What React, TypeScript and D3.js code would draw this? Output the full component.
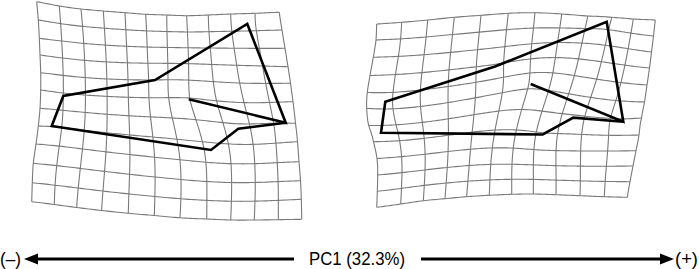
import * as d3 from 'd3';
import React, { useMemo } from 'react';

type Pt = [number, number];

const gridCells = 11;

// ---- negative side of PC1 (left panel) ----
const negTopEdge: Pt[] = [[36.7, 1.7], [59.3, 6], [81, 9], [103.3, 11], [125, 12.7], [145.7, 14.3], [166.7, 15], [186.7, 15.7], [208.3, 15], [230.7, 14], [255, 13.3], [279.3, 12.3]];
const negBottomEdge: Pt[] = [[31.7, 201.7], [54.3, 204.5], [76.7, 207.5], [101.7, 210.5], [128.3, 213.3], [154.3, 215.5], [180, 217.8], [206.7, 219], [230.7, 220], [254.3, 220], [278.3, 219.7], [301.7, 219.3]];
const negLeftEdge: Pt[] = [[36.7, 1.7], [38.3, 20], [39.3, 38.3], [40, 55], [40.7, 72.7], [40.7, 90], [40, 108.3], [38.3, 126], [36, 144], [33.3, 163.3], [32.3, 182.7], [31.7, 201.7]];
const negRightEdge: Pt[] = [[279.3, 12.3], [282, 30], [285, 48.3], [288, 66.7], [290.5, 83.3], [293, 101.7], [295.5, 123.3], [297.5, 141.7], [299, 161.7], [300.5, 180.7], [301.3, 199.3], [301.7, 219.3]];

// landmarks: inner, right, tip, midUpper, leftUpper, bottomLeft, bottomLow, knee
const negLandmarks: Pt[] = [[188.7, 99.3], [285.7, 122.7], [247.3, 24], [155, 80], [63.3, 96], [51.7, 126], [211, 150], [238.3, 128.7]];
const negLandmarkGrid: Pt[] = [[7.0, 5.1], [10.5, 6.0], [9.7, 0.6], [5.3, 4.0], [1.0, 5.15], [0.55, 7.0], [7.25, 7.35], [8.5, 6.2]];

// ---- positive side of PC1 (right panel) ----
const posTopEdge: Pt[] = [[376.7, 24], [401.7, 22.3], [427.7, 20], [454.3, 17.3], [481, 15.3], [508.3, 13.3], [535, 12.7], [561.7, 14], [587.7, 16], [611.7, 17.3], [633.3, 19], [655.3, 20]];
const posBottomEdge: Pt[] = [[376.7, 207.3], [400.7, 204], [423.3, 200.7], [445, 198.7], [466.7, 196.7], [489.3, 195.3], [511.7, 194.3], [533.3, 194], [556, 194.7], [580, 195.7], [604.3, 196.7], [627.3, 197.3]];
const posLeftEdge: Pt[] = [[376.7, 24], [376, 40], [373.3, 57.3], [370, 75.5], [367.3, 92.5], [366.7, 108.5], [368.7, 125.5], [373.5, 141.7], [377, 158.5], [377.7, 175], [377.3, 191.3], [376.7, 207.3]];
const posRightEdge: Pt[] = [[655.3, 20], [653.5, 36], [651.5, 52], [649.5, 68], [647, 85], [644.5, 102], [641.5, 118], [639, 135], [636, 150.7], [633, 166], [630, 181.7], [627.3, 197.3]];

const posLandmarks: Pt[] = [[530.7, 84], [623.3, 121.7], [606.7, 21.7], [495, 66.5], [385.3, 101.7], [381, 132.7], [542.7, 134.5], [573.3, 117.7]];
const posLandmarkGrid: Pt[] = [[6.05, 4.8], [10.55, 6.1], [8.85, 0.55], [4.7, 3.1], [0.75, 4.5], [0.3, 6.4], [7.35, 7.05], [8.55, 6.15]];

// outline drawn through the landmarks (indices)
const outlineOrder = [0, 1, 2, 3, 4, 5, 6, 7, 1];

const axisLabel = 'PC1 (32.3%)';
const negLabel = '(\u2013)';
const posLabel = '(+)';

const kernel = (r2: number) => (r2 === 0 ? 0 : r2 * Math.log(r2));

function solve(A: number[][], b: number[][]): number[][] {
  const n = A.length;
  const M = A.map((row, i) => [...row, ...b[i]]);
  const m = b[0].length;
  for (let c = 0; c < n; c++) {
    let p = c;
    for (let r = c + 1; r < n; r++) if (Math.abs(M[r][c]) > Math.abs(M[p][c])) p = r;
    [M[c], M[p]] = [M[p], M[c]];
    for (let r = 0; r < n; r++) {
      if (r === c) continue;
      const f = M[r][c] / M[c][c];
      if (f === 0) continue;
      for (let k = c; k < n + m; k++) M[r][k] -= f * M[c][k];
    }
  }
  return M.map((row, i) => row.slice(n).map(v => v / M[i][i]));
}

// thin-plate spline from grid coords (u,v) to pixels; per-point smoothing
function fitTps(src: Pt[], dst: Pt[], lambdas: number[]) {
  const n = src.length;
  const A: number[][] = [];
  const b: number[][] = [];
  for (let i = 0; i < n; i++) {
    const row: number[] = [];
    for (let j = 0; j < n; j++) {
      const dx = src[i][0] - src[j][0];
      const dy = src[i][1] - src[j][1];
      row.push(kernel(dx * dx + dy * dy) + (i === j ? lambdas[i] : 0));
    }
    row.push(1, src[i][0], src[i][1]);
    A.push(row);
    b.push([dst[i][0], dst[i][1]]);
  }
  for (let k = 0; k < 3; k++) {
    const row: number[] = [];
    for (let j = 0; j < n; j++) row.push(k === 0 ? 1 : src[j][k - 1]);
    row.push(0, 0, 0);
    A.push(row);
    b.push([0, 0]);
  }
  const w = solve(A, b);
  return (u: number, v: number): Pt => {
    let x = w[n][0] + w[n + 1][0] * u + w[n + 2][0] * v;
    let y = w[n][1] + w[n + 1][1] * u + w[n + 2][1] * v;
    for (let i = 0; i < n; i++) {
      const dx = u - src[i][0];
      const dy = v - src[i][1];
      const k = kernel(dx * dx + dy * dy);
      x += w[i][0] * k;
      y += w[i][1] * k;
    }
    return [x, y];
  };
}

function buildGrid(top: Pt[], bottom: Pt[], left: Pt[], right: Pt[], lms: Pt[], lmGrid: Pt[]) {
  const src: Pt[] = [];
  const dst: Pt[] = [];
  const lam: number[] = [];
  for (let i = 0; i <= gridCells; i++) {
    src.push([i, 0]); dst.push(top[i]); lam.push(0.02);
    src.push([i, gridCells]); dst.push(bottom[i]); lam.push(0.02);
  }
  for (let j = 1; j < gridCells; j++) {
    src.push([0, j]); dst.push(left[j]); lam.push(0.02);
    src.push([gridCells, j]); dst.push(right[j]); lam.push(0.02);
  }
  lms.forEach((p, i) => { src.push(lmGrid[i]); dst.push(p); lam.push(1.5); });
  const warp = fitTps(src, dst, lam);
  const steps = d3.range(0, gridCells + 0.001, 0.1);
  const lines: Pt[][] = [];
  for (let j = 0; j <= gridCells; j++) lines.push(steps.map(u => warp(u, j)));
  for (let i = 0; i <= gridCells; i++) lines.push(steps.map(v => warp(i, v)));
  return lines;
}

const line = d3.line<Pt>().x(d => d[0]).y(d => d[1]);

const Panel: React.FC<{ lines: Pt[][]; landmarks: Pt[] }> = ({ lines, landmarks }) => (
  <g>
    {lines.map((l, i) => (
      <path key={i} d={line(l) ?? ''} fill="none" stroke="#7a7a7a" strokeWidth={1.1} />
    ))}
    <path
      d={line(outlineOrder.map(k => landmarks[k])) ?? ''}
      fill="none"
      stroke="#000"
      strokeWidth={2.6}
      strokeLinejoin="miter"
    />
  </g>
);

export default function App() {
  const width = 699;
  const height = 269;
  const negLines = useMemo(() => buildGrid(negTopEdge, negBottomEdge, negLeftEdge, negRightEdge, negLandmarks, negLandmarkGrid), []);
  const posLines = useMemo(() => buildGrid(posTopEdge, posBottomEdge, posLeftEdge, posRightEdge, posLandmarks, posLandmarkGrid), []);

  const ay = 259;
  const font = "'Liberation Sans Narrow', 'Arial Narrow', 'Liberation Sans', Arial, sans-serif";

  return (
    <svg
      width={width}
      height={height}
      viewBox={`0 0 ${width} ${height}`}
      style={{ position: 'absolute', left: 0, top: 0, background: '#fff' }}
    >
      <Panel lines={negLines} landmarks={negLandmarks} />
      <Panel lines={posLines} landmarks={posLandmarks} />

      {/* PC1 axis */}
      <line x1={36} y1={ay} x2={294} y2={ay} stroke="#000" strokeWidth={3} />
      <polygon points={`${24},${ay} ${38},${ay - 5.5} ${38},${ay + 5.5}`} fill="#000" />
      <line x1={421} y1={ay} x2={662} y2={ay} stroke="#000" strokeWidth={3} />
      <polygon points={`${674},${ay} ${660},${ay - 5.5} ${660},${ay + 5.5}`} fill="#000" />
      <text x={0} y={ay + 6} fontFamily={font} fontSize={18} textLength={21} lengthAdjust="spacingAndGlyphs">{negLabel}</text>
      <text x={309} y={ay + 6} fontFamily={font} fontSize={18} textLength={96} lengthAdjust="spacingAndGlyphs">{axisLabel}</text>
      <text x={675} y={ay + 6} fontFamily={font} fontSize={18} textLength={23} lengthAdjust="spacingAndGlyphs">{posLabel}</text>
    </svg>
  );
}
